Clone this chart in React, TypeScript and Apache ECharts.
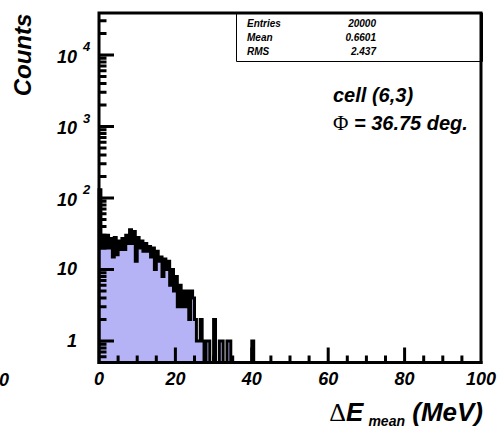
import { useEffect, useRef } from "react";
import * as echarts from "echarts";

// Histogram of ΔE_mean, 0.5 MeV bins starting at 0 MeV
const BIN_WIDTH = 0.5;
const binCounts = [
  130, 20, 30, 20, 30, 20, 27, 15, 28, 16,
  25, 19, 27, 19, 30, 23, 36, 23, 34, 13,
  28, 20, 25, 18, 23, 18, 21, 15, 20, 10,
  18, 13, 15, 8, 14, 10, 13, 6, 10, 5,
  8, 3, 6, 3, 5, 3, 5, 2, 5, 4,
  2, 1, 1, 2, 1, 0, 1, 1, 0, 0,
  2, 0, 0, 1, 1, 0, 0, 1, 1, 0,
  0, 0, 0, 0, 0, 0, 0, 0, 0, 0,
  1,
];

const X_MIN = 0;
const X_MAX = 100;
const Y_MIN = 0.5;
const Y_MAX = 38600;

const xMajorTicks = [0, 20, 40, 60, 80, 100];
const xTickLabels = ["0", "20", "40", "60", "80", "100"];
const xMinorStep = 5;
const yMajorValues = [1, 10, 100, 1000, 10000];
const yMajorBase = ["1", "10", "10", "10", "10"];
const yMajorExp = ["", "", "2", "3", "4"];
const yMinorMantissas = [2, 3, 4, 5, 6, 7, 8, 9];
const yMinorBelowOne = [0.6, 0.7, 0.8, 0.9];

const statNames = ["Entries", "Mean", "RMS"];
const statValues = ["20000", "0.6601", "2.437"];

const cellText = "cell (6,3)";
const phiText = " = 36.75 deg.";

const SANS = '"Liberation Sans", Arial, Helvetica, sans-serif';
const SERIF = '"Liberation Serif", "DejaVu Serif", serif';
const FILL = "#b5b3f5";
const INK = "#000000";
const HIST_LINE_W = 3;
const FRAME_W = 3;

const boldItalic = { fontFamily: SANS, fontWeight: "bold" as const, fontStyle: "italic" as const };

// tick positions along both axes
const xTickValues: number[] = [];
for (let v = X_MIN; v <= X_MAX; v += xMinorStep) xTickValues.push(v);
const yTickValues: number[] = [...yMinorBelowOne];
yMajorValues.forEach((dec) => {
  yTickValues.push(dec);
  yMinorMantissas.forEach((m) => {
    if (m * dec < Y_MAX) yTickValues.push(m * dec);
  });
});

const strokeStyle = (w: number) => ({ stroke: INK, lineWidth: w, fill: "none", lineJoin: "miter", lineCap: "square" });

// step outline of the whole histogram, through the axes' mapping
function stepPoints(api: any): number[][] {
  const nBins = Math.round((X_MAX - X_MIN) / BIN_WIDTH);
  const bottom = api.coord([X_MIN, Y_MIN])[1];
  const pts: number[][] = [[api.coord([X_MIN, Y_MIN])[0], bottom]];
  for (let i = 0; i < nBins; i++) {
    const c = i < binCounts.length ? binCounts[i] : 0;
    const x0 = X_MIN + i * BIN_WIDTH;
    const x1 = x0 + BIN_WIDTH;
    const y = c > 0 ? api.coord([x0, c])[1] : bottom;
    pts.push([api.coord([x0, Y_MIN])[0], y]);
    pts.push([api.coord([x1, Y_MIN])[0], y]);
  }
  pts.push([api.coord([X_MAX, Y_MIN])[0], bottom]);
  return pts;
}

// one continuous path: the frame, with tick marks traced out and back along the bottom and left edges
function framePoints(api: any): number[][] {
  const a = api.coord([X_MIN, Y_MIN]);
  const b = api.coord([X_MAX, Y_MAX]);
  const L = a[0];
  const B = a[1];
  const R = b[0];
  const T = b[1];
  const pts: number[][] = [[L, B]];
  xTickValues.forEach((v) => {
    const px = api.coord([v, Y_MIN])[0];
    const len = xMajorTicks.includes(v) ? 15 : 7;
    pts.push([px, B], [px, B - len], [px, B]);
  });
  pts.push([R, B], [R, T], [L, T]);
  [...yTickValues].sort((p, q) => q - p).forEach((v) => {
    const py = api.coord([X_MIN, v])[1];
    const len = yMajorValues.includes(v) ? 15 : 7.5;
    pts.push([L, py], [L + len, py], [L, py]);
  });
  pts.push([L, B], [R, B]);
  return pts;
}

function buildOption() {
  const histData = binCounts.map((c, i) => [X_MIN + i * BIN_WIDTH, c > 0 ? c : Y_MIN]);
  const yLabelData = yMajorValues.map((v, k) => [X_MIN, v, k]);

  return {
    animation: false,
    backgroundColor: "#ffffff",
    grid: { left: 99, top: 13, width: 382, height: 349.5, show: false },
    xAxis: {
      type: "value",
      min: X_MIN,
      max: X_MAX,
      interval: 20,
      axisLine: { show: false },
      splitLine: { show: false },
      axisTick: { show: false },
      minorTick: { show: false },
      axisLabel: {
        ...boldItalic,
        fontSize: 18,
        color: INK,
        margin: 7,
        formatter: (v: number) => xTickLabels[xMajorTicks.indexOf(v)] ?? String(v),
      },
    },
    yAxis: {
      type: "log",
      logBase: 10,
      min: Y_MIN,
      max: Y_MAX,
      axisLine: { show: false },
      axisTick: { show: false },
      axisLabel: { show: false },
      splitLine: { show: false },
    },
    series: [
      {
        type: "custom",
        name: "histogram",
        clip: false,
        z: 2,
        encode: { x: 0, y: 1 },
        data: histData,
        renderItem: (params: any, api: any) => {
          if (params.dataIndex !== 0) return { type: "group", children: [] };
          const pts = stepPoints(api);
          return {
            type: "group",
            children: [
              { type: "polygon", shape: { points: pts }, style: { fill: FILL, stroke: "none" } },
              { type: "polyline", shape: { points: pts }, style: strokeStyle(HIST_LINE_W) },
              { type: "polyline", shape: { points: framePoints(api) }, style: strokeStyle(FRAME_W) },
            ],
          };
        },
      },
      {
        type: "custom",
        name: "ylabels",
        clip: false,
        z: 3,
        encode: { x: 0, y: 1 },
        data: yLabelData,
        renderItem: (_p: any, api: any) => {
          const k = api.value(2);
          const p = api.coord([X_MIN, api.value(1)]);
          const exp = yMajorExp[k];
          const children: any[] = [
            {
              type: "text",
              style: {
                text: yMajorBase[k],
                x: p[0] - 22,
                y: p[1] + (exp ? 2 : 0),
                align: "right",
                verticalAlign: "middle",
                fill: INK,
                ...boldItalic,
                fontSize: 18,
              },
            },
          ];
          if (exp) {
            children.push({
              type: "text",
              style: {
                text: exp,
                x: p[0] - 16,
                y: p[1] - 8,
                align: "left",
                verticalAlign: "middle",
                fill: INK,
                ...boldItalic,
                fontSize: 13,
              },
            });
          }
          return { type: "group", children };
        },
      },
    ],
    graphic: [
      {
        type: "text",
        x: 22,
        y: 55,
        rotation: Math.PI / 2,
        style: { text: "Counts", align: "center", verticalAlign: "middle", fill: INK, ...boldItalic, fontSize: 24 },
      },
      {
        type: "text",
        x: 9,
        y: 380,
        style: { text: "0", align: "right", verticalAlign: "middle", fill: INK, ...boldItalic, fontSize: 18 },
      },
      {
        type: "group",
        z: 1,
        children: [
          {
            type: "rect",
            shape: { x: 236.5, y: 13, width: 246, height: 48.5 },
            style: { fill: "#fff", stroke: INK, lineWidth: 1 },
          },
          ...statNames.map((name, i) => ({
            type: "text",
            x: 247,
            y: 23.5 + i * 14.2,
            style: { text: name, align: "left", verticalAlign: "middle", fill: INK, ...boldItalic, fontSize: 10 },
          })),
          ...statValues.map((val, i) => ({
            type: "text",
            x: 376,
            y: 23.5 + i * 14.2,
            style: { text: val, align: "right", verticalAlign: "middle", fill: INK, ...boldItalic, fontSize: 10 },
          })),
        ],
      },
      {
        type: "text",
        x: 333,
        y: 95,
        style: { text: cellText, align: "left", verticalAlign: "middle", fill: INK, ...boldItalic, fontSize: 20 },
      },
      {
        type: "text",
        x: 333,
        y: 123,
        style: {
          text: "{p|Φ}{t|" + phiText + "}",
          align: "left",
          verticalAlign: "middle",
          rich: {
            p: { fontFamily: SERIF, fontSize: 21, fontWeight: "normal", fontStyle: "normal", fill: INK, verticalAlign: "middle" },
            t: { ...boldItalic, fontSize: 20, fill: INK, verticalAlign: "middle" },
          },
        },
      },
      {
        type: "text",
        x: 483,
        y: 412,
        style: {
          text: "{d|Δ}{e|E}{s|mean}{e| (MeV)}",
          align: "right",
          verticalAlign: "middle",
          rich: {
            d: { fontFamily: SERIF, fontSize: 26, fontWeight: "normal", fontStyle: "normal", fill: INK, verticalAlign: "middle" },
            e: { ...boldItalic, fontSize: 26, fill: INK, verticalAlign: "middle" },
            s: { ...boldItalic, fontSize: 14, fill: INK, verticalAlign: "middle", padding: [18, 0, 0, 5] },
          },
        },
      },
    ],
  };
}

export default function App() {
  const ref = useRef<HTMLDivElement>(null);
  useEffect(() => {
    if (!ref.current) return;
    const chart = echarts.init(ref.current, null, { renderer: "svg" });
    chart.setOption(buildOption() as any);
    return () => chart.dispose();
  }, []);
  return (
    <div
      ref={ref}
      style={{ position: "fixed", left: 0, top: 0, width: 504, height: 428, background: "#fff" }}
    />
  );
}
